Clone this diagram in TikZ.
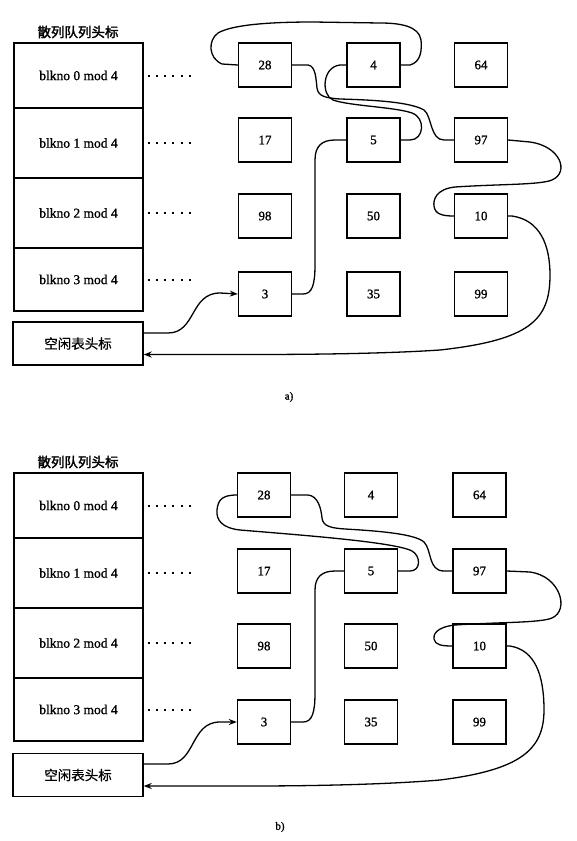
\documentclass[tikz,border=0pt]{standalone}
\usepackage{fontspec}
\setmainfont{Liberation Serif}
\newfontfamily\heavyserif{Liberation Serif}[FakeBold=1.2]
\newfontfamily\cjk{Noto Sans CJK SC}[FakeBold=0.6]
\newfontfamily\cjkbold{Noto Sans CJK SC}[FakeBold=2.2]
\usetikzlibrary{arrows.meta}
\begin{document}
\begin{tikzpicture}[x=1pt,y=-1pt,
 numbox/.style={draw, line width=1.4pt, minimum width=53pt, minimum height=44pt, inner sep=0pt, font=\heavyserif\fontsize{13}{15}\selectfont},
 rowbox/.style={draw, line width=1.4pt, minimum width=129pt, inner sep=0pt, font=\heavyserif\fontsize{13.5}{15}\selectfont},
 freebox/.style={draw, line width=1.4pt, minimum width=130pt, minimum height=43pt, inner sep=0pt, font=\cjk\fontsize{13.5}{15}\selectfont},
 titletext/.style={font=\cjkbold\fontsize{13.5}{15}\selectfont, inner sep=0pt},
 dotline/.style={line width=2pt, dash pattern=on 2pt off 6.2pt},
 link/.style={line width=1.3pt},
 arr/.style={link, -{Stealth[length=8pt,width=6pt]}},
 captext/.style={font=\heavyserif\fontsize{11}{13}\selectfont, inner sep=0pt}
]
\useasboundingbox (0,0) rectangle (577,841);

% ================= a) =================
\node[titletext] (at) at (78,32) {散列队列头标};
\node[rowbox, minimum height=65pt] (ar0) at (78.5,75.5) {blkno 0 mod 4};
\node[rowbox, minimum height=70pt] (ar1) at (78.5,143) {blkno 1 mod 4};
\node[rowbox, minimum height=70pt] (ar2) at (78.5,213) {blkno 2 mod 4};
\node[rowbox, minimum height=63pt] (ar3) at (78.5,279.5) {blkno 3 mod 4};
\node[freebox] (af) at (78,343.5) {空闲表头标};

\foreach \r in {ar0,ar1,ar2,ar3}
  \draw[dotline] ([xshift=4pt]\r.east) -- ++(43,0);

\node[numbox] (a28) at (265,65) {28};
\node[numbox] (a4)  at (373.5,65) {4};
\node[numbox] (a64) at (481,65) {64};
\node[numbox] (a17) at (265,140) {17};
\node[numbox] (a5)  at (373.5,140) {5};
\node[numbox] (a97) at (481,140) {97};
\node[numbox] (a98) at (265,216) {98};
\node[numbox] (a50) at (373.5,216) {50};
\node[numbox] (a10) at (481,216) {10};
\node[numbox] (a3)  at (265,294) {3};
\node[numbox] (a35) at (373.5,294) {35};
\node[numbox] (a99) at (481,294) {99};

% free list header -> 3
\draw[arr] ([yshift=10.5pt]af.east) -- (168,333) .. controls (196,333) and (190,293) .. (220,293) -- (a3.west);
% 3 -> 5
\draw[link] (a3.east) -- (303,294) .. controls (312,294) and (315,285) .. (315,265) -- (315,160) .. controls (315,146) and (322,140) .. (335,140) -- (a5.west);
% 5 -> 4
\draw[link] (a5.east) -- (410,140) .. controls (424,140) and (426,118) .. (412,113) .. controls (395,107) and (350,106) .. (333,100) .. controls (321,95) and (322,67) .. (340,65) -- (a4.west);
% 4 -> 28 (over the top)
\draw[link] (a4.east) -- (410,65) .. controls (421,62) and (422,50) .. (421,40) .. controls (419,26) and (400,23) .. (380,23) -- (313,22) .. controls (260,22) and (230,26) .. (218,33) .. controls (208,40) and (208,58) .. (222,64) -- (a28.west);
% 28 -> 97
\draw[link] (a28.east) -- (308,65) .. controls (316,66) and (316,80) .. (317,88) .. controls (318,96) and (325,98) .. (340,99) .. controls (375,100) and (410,102) .. (424,110) .. controls (432,116) and (430,140) .. (444,140) -- (a97.west);
% 97 -> 10
\draw[link] (a97.east) -- (530,142) .. controls (560,146) and (570,172) .. (552,180) .. controls (540,185) and (500,184) .. (455,187) .. controls (436,189) and (433,200) .. (434,206) .. controls (435,214) and (442,216) .. (a10.west);
% 10 -> free list header
\draw[arr] (a10.east) -- (512,216) .. controls (540,220) and (550,245) .. (550,275) .. controls (550,320) and (530,340) .. (440,350) .. controls (380,354) and (300,354.5) .. (250,354.5) -- ([yshift=-11pt]af.east);

\node[captext] (acap) at (289,397) {a)};

% ================= b) =================
\begin{scope}[yshift=-430pt]
\node[titletext] (bt) at (78,32) {散列队列头标};
\node[rowbox, minimum height=65pt] (br0) at (78.5,75.5) {blkno 0 mod 4};
\node[rowbox, minimum height=70pt] (br1) at (78.5,143) {blkno 1 mod 4};
\node[rowbox, minimum height=70pt] (br2) at (78.5,213) {blkno 2 mod 4};
\node[rowbox, minimum height=63pt] (br3) at (78.5,279.5) {blkno 3 mod 4};
\node[freebox] (bf) at (78,345) {空闲表头标};

\foreach \r in {br0,br1,br2,br3}
  \draw[dotline] ([xshift=4pt]\r.east) -- ++(43,0);

\node[numbox] (b28) at (264,65) {28};
\node[numbox] (b4)  at (371,65) {4};
\node[numbox] (b64) at (479.5,65) {64};
\node[numbox] (b17) at (264,141) {17};
\node[numbox] (b5)  at (371,141) {5};
\node[numbox] (b97) at (479.5,141) {97};
\node[numbox] (b98) at (264,216) {98};
\node[numbox] (b50) at (371,216) {50};
\node[numbox] (b10) at (479.5,216) {10};
\node[numbox] (b3)  at (264,292) {3};
\node[numbox] (b35) at (371,292) {35};
\node[numbox] (b99) at (479.5,292) {99};

% free list header -> 3
\draw[arr] ([yshift=11pt]bf.east) -- (168,334) .. controls (196,334) and (190,292) .. (220,292) -- (b3.west);
% 3 -> 5
\draw[link] (b3.east) -- (303,292) .. controls (312,292) and (315,283) .. (315,263) -- (315,160) .. controls (315,147) and (322,141) .. (335,141) -- (b5.west);
% 5 -> 28
\draw[link] (b5.east) -- (410,141) .. controls (421,141) and (421,126) .. (412,121) .. controls (395,112) and (300,105) .. (240,100) .. controls (222,98) and (216,90) .. (217,80) .. controls (218,70) and (222,65) .. (b28.west);
% 28 -> 97
\draw[link] (b28.east) -- (308,65) .. controls (318,66) and (321,78) .. (322,88) .. controls (323,96) and (330,98) .. (345,99) .. controls (380,101) and (415,104) .. (424,112) .. controls (432,120) and (428,141) .. (444,141) -- (b97.west);
% 97 -> 10
\draw[link] (b97.east) -- (530,142) .. controls (560,146) and (570,180) .. (552,188) .. controls (540,193) and (500,192) .. (455,195) .. controls (436,197) and (433,205) .. (434,209) .. controls (435,215) and (442,216) .. (b10.west);
% 10 -> free list header
\draw[arr] (b10.east) -- (510,216) .. controls (535,220) and (544,245) .. (544,280) .. controls (544,320) and (520,340) .. (440,350) .. controls (380,355) and (300,356) .. (250,356) -- ([yshift=-11pt]bf.east);

\node[captext] (bcap) at (280,397) {b)};
\end{scope}
\end{tikzpicture}
\end{document}
